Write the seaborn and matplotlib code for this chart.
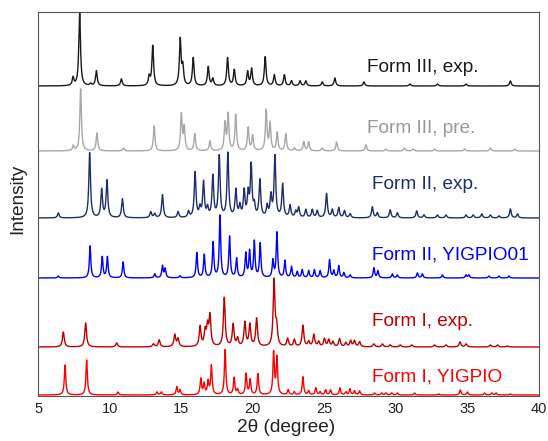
import numpy as np
import pandas as pd
import matplotlib
matplotlib.use("Agg")
import matplotlib.pyplot as plt
import seaborn as sns

# ---------------- data ----------------
series_names = ["Form III, exp.", "Form III, pre.", "Form II, exp.",
                "Form II, YIGPIO01", "Form I, exp.", "Form I, YIGPIO"]

form3_exp_pos = [7.43, 7.89, 8.66, 9.06, 10.81, 12.75, 13.0, 14.92, 15.1, 15.83, 16.88, 17.2,
                 18.23, 18.7, 19.63, 19.91, 20.86, 21.5, 22.2, 22.7, 23.3, 23.7, 24.85, 25.73,
                 27.76, 30.98, 32.9, 34.9, 38.0]
form3_exp_int = [8, 73, 2, 15, 7, 9, 40, 46, 18, 28, 19, 7,
                 28, 16, 14, 17, 29, 11, 11, 5, 5, 5, 4, 8,
                 4, 2, 2, 2, 5]

form3_pre_pos = [7.45, 7.96, 9.1, 10.95, 13.1, 15.0, 15.2, 15.94, 17.0, 18.05, 18.27, 18.8,
                 19.67, 19.98, 20.93, 21.2, 21.7, 22.3, 22.9, 23.56, 23.9, 24.85, 25.85, 27.9,
                 29.3, 30.6, 31.2, 32.7, 34.8, 36.6, 38.3]
form3_pre_int = [5, 62, 18, 3, 25, 36, 23, 17, 10, 27, 36, 36,
                 23, 15, 40, 27, 18, 17, 3, 9, 9, 3, 9, 6,
                 2, 3, 2, 2, 2, 3, 2]

form2_exp_pos = [6.4, 8.59, 9.43, 9.8, 10.88, 12.86, 13.14, 13.68, 14.77, 15.5, 15.96, 16.3,
                 16.55, 16.83, 17.2, 17.65, 18.25, 18.81, 19.09, 19.39, 19.67, 19.88, 20.1, 20.49,
                 21.0, 21.26, 21.54, 22.08, 22.6, 23.0, 23.2, 23.7, 24.15, 24.5, 25.15, 25.55,
                 26.0, 26.4, 26.8, 28.35, 28.7, 29.6, 30.1, 31.45, 31.96, 32.9, 33.5, 34.9,
                 35.4, 36.0, 36.6, 37.2, 38.0, 38.5]
form2_exp_int = [5, 65, 28, 37, 19, 6, 4, 23, 6, 6, 45, 9,
                 35, 9, 41, 61, 64, 27, 11, 26, 23, 51, 11, 37,
                 11, 21, 61, 33, 12, 6, 10, 8, 8, 7, 24, 8,
                 10, 7, 4, 11, 5, 8, 5, 7, 3, 3, 3, 3,
                 3, 4, 3, 2, 9, 4]

form2_yig_pos = [6.4, 8.62, 9.47, 9.83, 10.93, 13.14, 13.68, 13.87, 14.9, 16.08, 16.6, 17.22,
                 17.7, 18.37, 18.86, 19.5, 19.77, 20.1, 20.51, 21.4, 21.68, 22.24, 22.7, 23.1,
                 23.45, 23.9, 24.3, 24.7, 25.36, 25.66, 26.0, 26.36, 26.8, 28.46, 28.74, 29.75,
                 30.1, 31.5, 31.85, 33.25, 34.9, 35.1, 36.5, 37.2, 37.9]
form2_yig_int = [2, 32, 21, 21, 16, 4, 12, 9, 2, 25, 23, 35,
                 62, 41, 19, 24, 26, 36, 34, 17, 45, 17, 11, 6,
                 8, 7, 8, 7, 18, 7, 12, 5, 3, 10, 7, 4,
                 3, 5, 4, 3, 3, 3, 2, 2, 2]

form1_exp_pos = [6.75, 8.31, 10.48, 13.05, 13.45, 14.54, 14.77, 16.31, 16.66, 16.83, 17.0, 18.0,
                 18.62, 18.93, 19.44, 19.79, 20.26, 21.48, 21.66, 22.43, 22.9, 23.5, 23.9, 24.26,
                 24.6, 25.0, 25.3, 25.6, 26.06, 26.5, 26.83, 27.1, 27.46, 28.46, 29.05, 29.6,
                 30.3, 31.1, 32.7, 33.5, 34.48, 34.9, 36.6, 37.1, 37.8]
form1_exp_int = [15, 24, 4, 3, 7, 12, 8, 20, 15, 19, 30, 49,
                 22, 8, 24, 22, 28, 66, 18, 8, 7, 21, 5, 12,
                 5, 8, 7, 5, 8, 4, 6, 6, 5, 3, 3, 2,
                 2, 2, 2, 2, 5, 3, 2, 2, 1]

form1_yig_pos = [6.87, 8.38, 10.57, 13.3, 13.6, 14.68, 14.91, 16.36, 16.59, 16.87, 17.1, 18.06,
                 18.69, 18.93, 19.53, 19.81, 20.35, 21.45, 21.68, 22.47, 22.89, 23.5, 23.9, 24.4,
                 24.7, 25.08, 25.43, 26.08, 26.5, 26.78, 27.1, 27.46, 28.5, 29.0, 29.3, 29.7,
                 30.1, 31.3, 33.0, 34.5, 35.0, 36.2, 36.7, 37.0, 38.0]
form1_yig_int = [30, 35, 3, 3, 3, 8, 5, 16, 11, 13, 29, 45,
                 17, 5, 21, 15, 21, 42, 37, 5, 3, 18, 4, 7,
                 3, 5, 5, 7, 3, 6, 4, 4, 2, 2, 2, 2,
                 2, 2, 1, 5, 3, 2, 2, 2, 1]

x_ticks = [5, 10, 15, 20, 25, 30, 35, 40]

# ---------------- styling / layout ----------------
peak_lists = [(form3_exp_pos, form3_exp_int), (form3_pre_pos, form3_pre_int),
              (form2_exp_pos, form2_exp_int), (form2_yig_pos, form2_yig_int),
              (form1_exp_pos, form1_exp_int), (form1_yig_pos, form1_yig_int)]
offsets = [310, 245, 178, 118, 49, 1]
half_widths = [0.07, 0.065, 0.07, 0.06, 0.075, 0.06]
colors = ["#1a1a1a", "#a8a8a8", "#1c2f6e", "#0000ff", "#c00000", "#ff0000"]
text_colors = ["#1a1a1a", "#999999", "#1c2f6e", "#0000ff", "#c00000", "#ff0000"]
label_x = [27.98, 27.98, 28.32, 28.32, 28.32, 28.32]
label_y = [323.5, 263, 207, 137, 70, 15]

two_theta = np.round(np.arange(5.0, 40.0001, 0.01), 3)
frames = []
for name, (pos, inten), off, g in zip(series_names, peak_lists, offsets, half_widths):
    prof = np.zeros_like(two_theta)
    for p, h in zip(pos, inten):
        prof += h / (1.0 + ((two_theta - p) / g) ** 2)
    frames.append(pd.DataFrame({"two_theta": two_theta,
                                "intensity": prof + off,
                                "series": name}))
df = pd.concat(frames, ignore_index=True)

sns.set_style("white")
plt.rcParams["font.family"] = ["Liberation Sans", "DejaVu Sans"]

fig = plt.figure(figsize=(5.48, 4.41), dpi=100)
ax = fig.add_axes([38.3 / 548, 1 - 396 / 441, 500.7 / 548, 384 / 441])

sns.lineplot(data=df, x="two_theta", y="intensity", hue="series",
             hue_order=series_names, palette=dict(zip(series_names, colors)),
             estimator=None, sort=False, legend=False, linewidth=1.0, ax=ax)

for name, tx, ty, c in zip(series_names, label_x, label_y, text_colors):
    ax.text(tx, ty, name, color=c, fontsize=13.7, ha="left", va="baseline")

ax.set_xlim(5, 40)
ax.set_ylim(0, 384)
ax.set_xticks(x_ticks)
ax.set_xticklabels([str(t) for t in x_ticks])
ax.set_yticks([])
ax.tick_params(axis="x", direction="in", length=3.6, width=0.8, color="#333333",
               labelsize=10.5, pad=4, labelcolor="#222222")
for s in ax.spines.values():
    s.set_visible(True)
    s.set_color("#555555")
    s.set_linewidth(0.8)

ax.set_xlabel("2θ (degree)", fontsize=13.7, color="#222222")
ax.set_ylabel("Intensity", fontsize=13.7, color="#222222")
ax.xaxis.set_label_coords(0.495, -0.059)
ax.yaxis.set_label_coords(-0.0236, 0.513)

fig.savefig("out.png", dpi=100)
